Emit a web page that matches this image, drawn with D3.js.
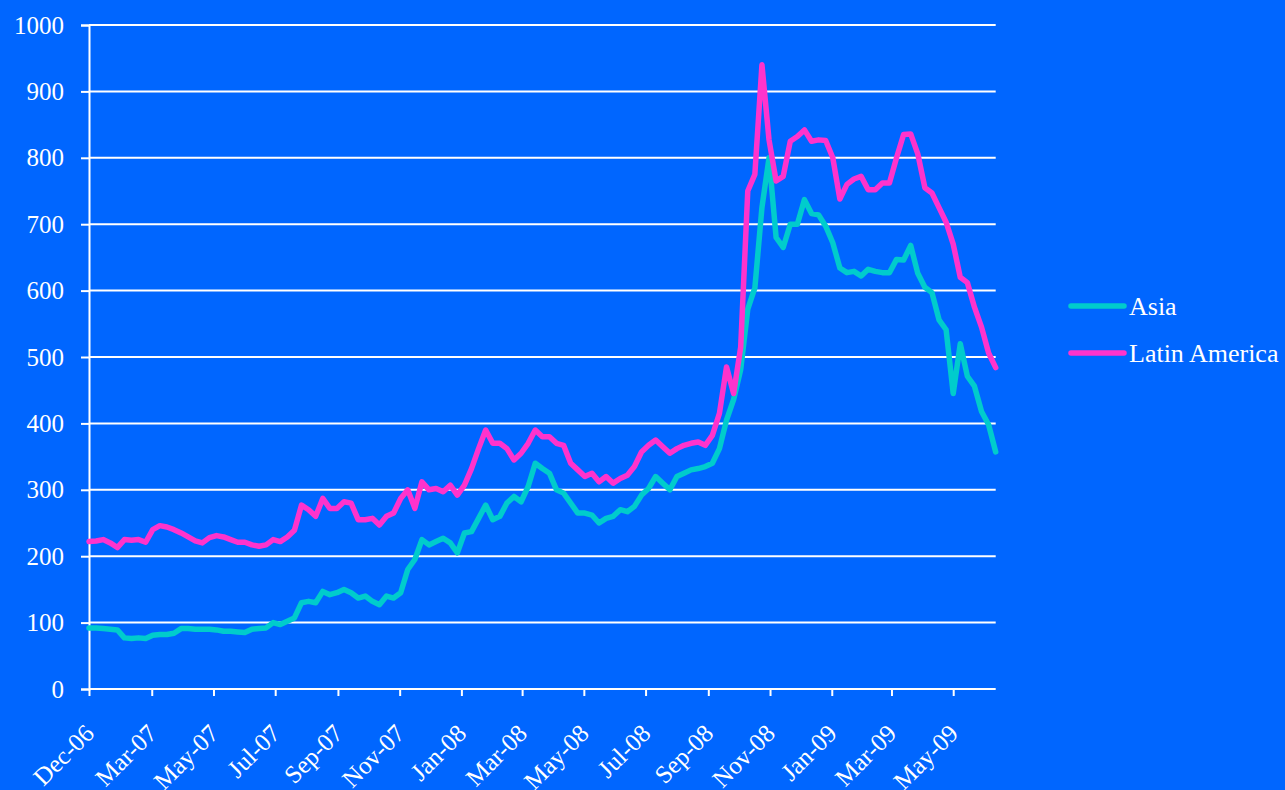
<!DOCTYPE html>
<html>
<head>
<meta charset="utf-8">
<script src="https://cdn.jsdelivr.net/npm/d3@7"></script>
<style>
  html, body { margin: 0; padding: 0; background: #0066FF; }
  svg { display: block; }
  text { font-family: "Times New Roman", "Liberation Serif", serif; fill: #fff; }
</style>
</head>
<body>
<svg id="chart" width="1285" height="790"></svg>
<script>
// Weekly closing values (Fridays), Dec 29 2006 – Jun 12 2009
const firstWeek = new Date(2006, 11, 29);
const lastWeek = new Date(2009, 5, 12);

const asia = [
  92, 92, 91, 90, 89, 77, 76, 77, 76, 81,
  82, 82, 84, 91, 91, 90, 90, 90, 89, 87,
  87, 86, 85, 90, 91, 92, 100, 97, 102, 107,
  130, 132, 130, 147, 142, 145, 150, 145, 137, 140,
  132, 127, 140, 137, 145, 180, 195, 225, 217, 222,
  227, 220, 205, 235, 237, 257, 277, 255, 260, 280,
  290, 282, 305, 340, 332, 325, 300, 295, 280, 265,
  265, 262, 250, 257, 260, 270, 267, 275, 292, 302,
  320, 310, 300, 320, 325, 330, 332, 335, 340, 362,
  405, 436, 481, 572, 604, 725, 800, 680, 665, 700,
  700, 737, 716, 714, 697, 672, 634, 627, 629, 622,
  632, 629, 627, 627, 647, 646, 668, 626, 605, 597,
  556, 541, 445, 520, 471, 456, 418, 398, 357
];

const latinAmerica = [
  222, 223, 225, 220, 213, 225, 224, 225, 221, 240,
  246, 244, 240, 235, 229, 223, 220, 228, 231, 229,
  225, 221, 221, 217, 215, 217, 225, 222, 229, 239,
  277, 270, 260, 287, 272, 272, 282, 280, 255, 255,
  257, 247, 260, 265, 287, 300, 272, 312, 300, 302,
  297, 307, 292, 307, 332, 362, 390, 370, 370, 362,
  345, 355, 370, 390, 380, 380, 370, 367, 340, 330,
  320, 325, 312, 320, 310, 317, 322, 335, 357, 367,
  375, 365, 355, 362, 367, 370, 372, 367, 382, 415,
  485, 445, 515, 750, 775, 940, 827, 765, 772, 825,
  832, 842, 825, 827, 826, 800, 738, 760, 768, 772,
  752, 752, 762, 762, 800, 835, 836, 806, 755, 747,
  725, 703, 670, 620, 612, 575, 545, 506, 484
];

const tickDates = [
  new Date(2006, 11, 29), new Date(2007, 2, 1), new Date(2007, 4, 1),
  new Date(2007, 6, 1), new Date(2007, 8, 1), new Date(2007, 10, 1),
  new Date(2008, 0, 1), new Date(2008, 2, 1), new Date(2008, 4, 1),
  new Date(2008, 6, 1), new Date(2008, 8, 1), new Date(2008, 10, 1),
  new Date(2009, 0, 1), new Date(2009, 2, 1), new Date(2009, 4, 1)
];
const tickLabels = [
  "Dec-06", "Mar-07", "May-07", "Jul-07", "Sep-07", "Nov-07", "Jan-08",
  "Mar-08", "May-08", "Jul-08", "Sep-08", "Nov-08", "Jan-09", "Mar-09", "May-09"
];
const yTicks = [0, 100, 200, 300, 400, 500, 600, 700, 800, 900, 1000];

const seriesNames = ["Asia", "Latin America"];
const seriesColors = ["#00CCCC", "#FF33CC"];

const weeks = d3.timeDay.range(firstWeek, d3.timeDay.offset(lastWeek, 1), 7);

const svg = d3.select("#chart");
const plot = { left: 89, right: 995.7, top: 25, bottom: 689 };

const x = d3.scaleTime().domain([firstWeek, lastWeek]).range([plot.left, plot.right]);
const y = d3.scaleLinear().domain([0, 1000]).range([plot.bottom, plot.top]);

// horizontal gridlines
svg.append("g")
  .selectAll("line")
  .data(yTicks.filter(d => d > 0))
  .join("line")
  .attr("x1", plot.left).attr("x2", plot.right)
  .attr("y1", d => y(d)).attr("y2", d => y(d))
  .attr("stroke", "#fff").attr("stroke-width", 2);

// y axis
const yAxis = svg.append("g")
  .attr("transform", `translate(${plot.left},0)`)
  .call(d3.axisLeft(y).tickValues(yTicks).tickSize(8).tickPadding(17).tickFormat(d3.format("d")));
yAxis.selectAll("line").attr("stroke", "#fff").attr("stroke-width", 2);
yAxis.select(".domain").attr("stroke", "#fff").attr("stroke-width", 2);
yAxis.selectAll("text")
  .attr("fill", "#fff").style("font-size", "25px")
  .style("font-family", '"Times New Roman", "Liberation Serif", serif');

// x axis
const xAxis = svg.append("g")
  .attr("transform", `translate(0,${plot.bottom})`)
  .call(d3.axisBottom(x).tickValues(tickDates).tickSize(7)
    .tickFormat((d, i) => tickLabels[i]));
xAxis.select(".domain").attr("stroke", "#fff").attr("stroke-width", 2)
  .attr("d", `M${plot.left},0H${plot.right}`);
xAxis.selectAll(".tick line").attr("stroke", "#fff").attr("stroke-width", 2);
xAxis.selectAll("text")
  .attr("x", 0).attr("y", 0).attr("dy", 0)
  .attr("text-anchor", "end")
  .attr("transform", "translate(6,46) rotate(-45)")
  .attr("fill", "#fff").style("font-size", "25px")
  .style("font-family", '"Times New Roman", "Liberation Serif", serif');

// series lines
const series = [asia, latinAmerica];
const line = d3.line()
  .x((d, i) => x(weeks[i]))
  .y(d => y(d));

svg.append("g")
  .selectAll("path")
  .data(series)
  .join("path")
  .attr("d", line)
  .attr("fill", "none")
  .attr("stroke", (d, i) => seriesColors[i])
  .attr("stroke-width", 5.5)
  .attr("stroke-linejoin", "round")
  .attr("stroke-linecap", "round");

// legend
const legend = svg.append("g");
const legendRows = [306, 353];
seriesNames.forEach((name, i) => {
  legend.append("line")
    .attr("x1", 1071).attr("x2", 1124)
    .attr("y1", legendRows[i]).attr("y2", legendRows[i])
    .attr("stroke", seriesColors[i]).attr("stroke-width", 5.5)
    .attr("stroke-linecap", "round");
  legend.append("text")
    .attr("x", 1129).attr("y", legendRows[i] + 9)
    .style("font-size", "26px")
    .text(name);
});
</script>
</body>
</html>
